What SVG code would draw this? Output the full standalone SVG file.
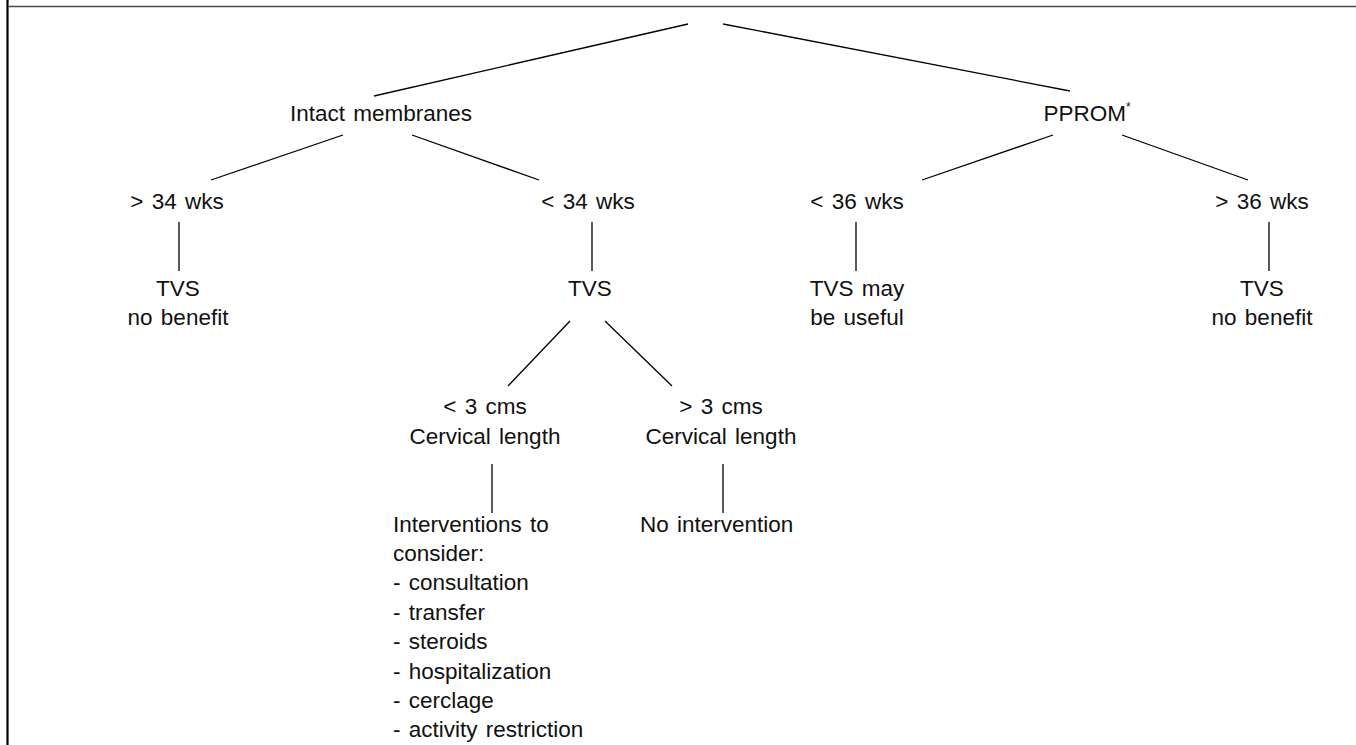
<svg xmlns="http://www.w3.org/2000/svg" width="1356" height="745" viewBox="0 0 1356 745">
<style>
  text { font-family: "Liberation Sans", Arial, sans-serif; font-size: 22.5px; fill: #111; word-spacing: 2px; }
  .c { text-anchor: middle; }
  .l { text-anchor: start; }
  .edge { stroke: #000; stroke-width: 1.3; fill: none; }
</style>
<rect x="0" y="0" width="1356" height="745" fill="#fff"/>
<g id="frame">
  <line x1="7.5" y1="0" x2="7.5" y2="745" stroke="#000" stroke-width="2.2"/>
  <line x1="8" y1="6.5" x2="1356" y2="6.5" stroke="#4a4a4a" stroke-width="1.6"/>
</g>
<g id="connectors">
  <line class="edge" x1="688" y1="24" x2="374" y2="96"/>
  <line class="edge" x1="723" y1="24" x2="1070" y2="91"/>
  <line class="edge" x1="343" y1="135" x2="211" y2="180"/>
  <line class="edge" x1="412" y1="135" x2="539" y2="180"/>
  <line class="edge" x1="1053" y1="135" x2="922" y2="180"/>
  <line class="edge" x1="1122" y1="135" x2="1248" y2="180"/>
  <line class="edge" x1="179" y1="222" x2="179" y2="271"/>
  <line class="edge" x1="592" y1="222" x2="592" y2="271"/>
  <line class="edge" x1="856" y1="222" x2="856" y2="271"/>
  <line class="edge" x1="1269" y1="222" x2="1269" y2="271"/>
  <line class="edge" x1="570" y1="321" x2="508" y2="386"/>
  <line class="edge" x1="605" y1="321" x2="672" y2="386"/>
  <line class="edge" x1="492" y1="464" x2="492" y2="513"/>
  <line class="edge" x1="723" y1="464" x2="723" y2="513"/>
</g>
<g id="intact"><text class="c" x="381" y="121">Intact membranes</text></g>
<g id="pprom"><text class="c" x="1087" y="121">PPROM<tspan font-size="12" dy="-10">*</tspan></text></g>
<g id="gt34"><text class="c" x="177" y="209">&gt; 34 wks</text></g>
<g id="lt34"><text class="c" x="588" y="209">&lt; 34 wks</text></g>
<g id="lt36"><text class="c" x="857" y="209">&lt; 36 wks</text></g>
<g id="gt36"><text class="c" x="1262" y="209">&gt; 36 wks</text></g>
<g id="tvs1"><text class="c" x="178" y="296">TVS</text><text class="c" x="178" y="325">no benefit</text></g>
<g id="tvs2"><text class="c" x="590" y="296">TVS</text></g>
<g id="tvs3"><text class="c" x="857" y="296">TVS may</text><text class="c" x="857" y="325">be useful</text></g>
<g id="tvs4"><text class="c" x="1262" y="296">TVS</text><text class="c" x="1262" y="325">no benefit</text></g>
<g id="lt3"><text class="c" x="485" y="414">&lt; 3 cms</text><text class="c" x="485" y="444">Cervical length</text></g>
<g id="gt3"><text class="c" x="721" y="414">&gt; 3 cms</text><text class="c" x="721" y="444">Cervical length</text></g>
<g id="interventions">
  <text class="l" x="393" y="532">Interventions to</text>
  <text class="l" x="393" y="561">consider:</text>
  <text class="l" x="393" y="590">- consultation</text>
  <text class="l" x="393" y="620">- transfer</text>
  <text class="l" x="393" y="649">- steroids</text>
  <text class="l" x="393" y="679">- hospitalization</text>
  <text class="l" x="393" y="708">- cerclage</text>
  <text class="l" x="393" y="737">- activity restriction</text>
</g>
<g id="nointervention"><text class="l" x="640" y="532">No intervention</text></g>
</svg>
